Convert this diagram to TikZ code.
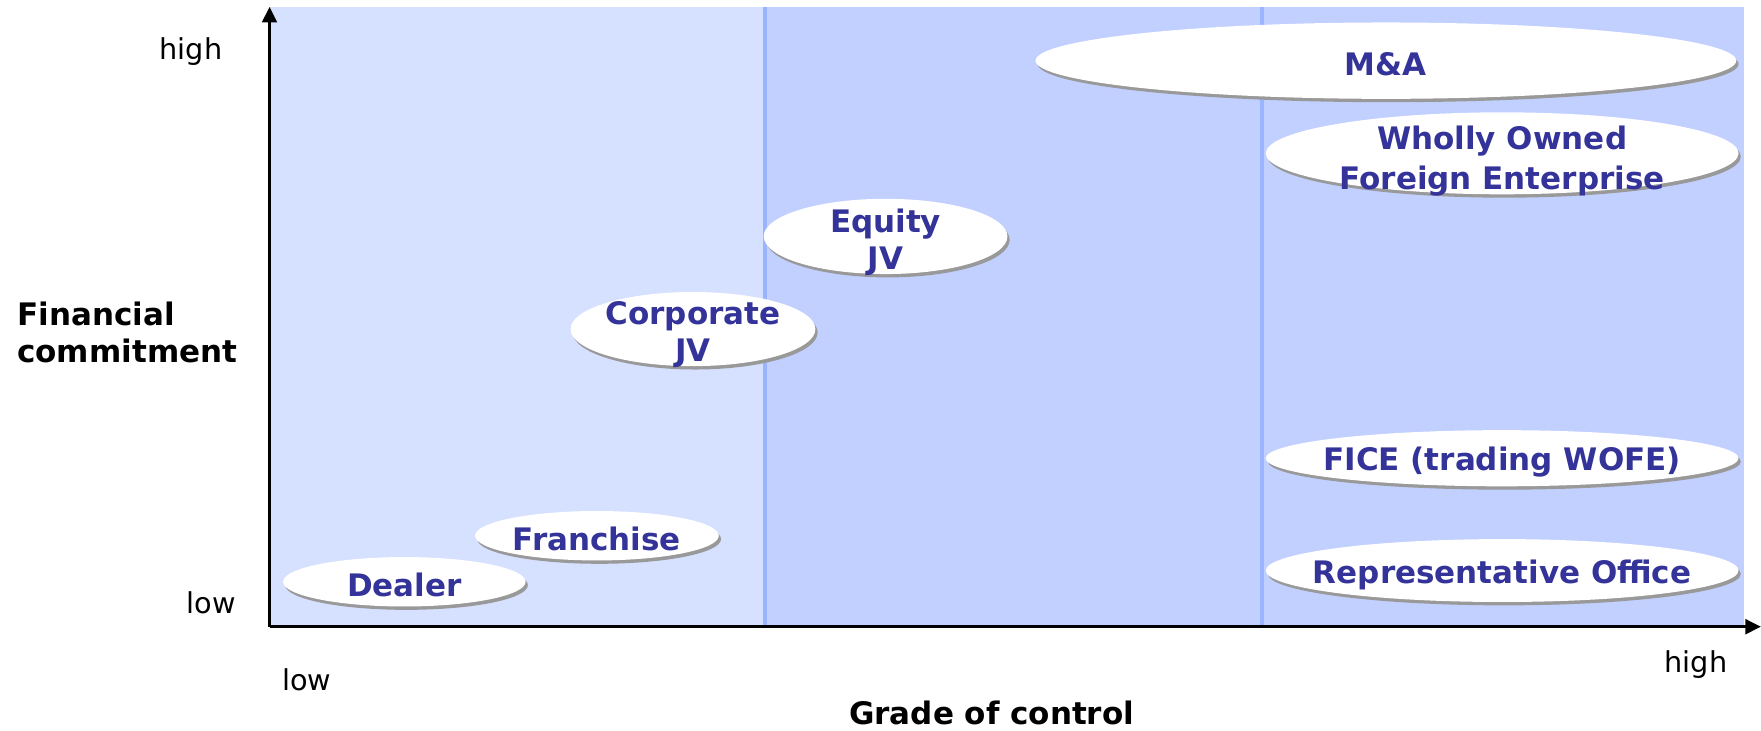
\documentclass[tikz,border=0pt]{standalone}
\usepackage{fontspec}
\setmainfont{DejaVu Sans}
\usepackage{tikz}
\usetikzlibrary{
  shapes.geometric,
  shadows,
  arrows.meta
}
\definecolor{zonelight}{HTML}{D6E0FF}
\definecolor{zonedark}{HTML}{C2D0FF}
\definecolor{divider}{HTML}{9AB4FF}
\definecolor{modetext}{HTML}{333399}
\tikzset{
  bubble/.style={ellipse,fill=white,inner sep=0pt,
    drop shadow={shadow xshift=1pt,shadow yshift=-1.5pt,fill=black!40,opacity=1}},
  bubbletext/.style={text=modetext,inner sep=0pt,align=center,yshift=-1.5pt,
    font=\fontsize{13.8}{16.5}\selectfont\bfseries},
  axislabel/.style={inner sep=0pt,align=left,
    font=\fontsize{13.8}{16.5}\selectfont\bfseries},
  ticklabel/.style={inner sep=0pt,font=\fontsize{12.8}{15}\selectfont},
  axis/.style={line width=1.5pt,-{Triangle[width=6.5pt,length=7pt]}},
}

\begin{document}
\begin{tikzpicture}[
  x=0.5pt,y=-0.5pt,
]
\useasboundingbox (0,0) rectangle (1568,650);
% zones of control
\fill[zonelight] (240,6) rectangle (681,558);
\fill[zonedark] (681,6) rectangle (1553,558);
\draw[divider,line width=1.8pt] (681,6) -- (681,558);
\draw[divider,line width=1.8pt] (1124,6) -- (1124,558);

% axes
\coordinate (origin) at (240,558);
\coordinate (ytip) at (240,6);
\coordinate (xtip) at (1568,558);
\draw[axis] (origin) -- (ytip);
\draw[axis] (origin) -- (xtip);

\node[ticklabel] (yhigh) at (170,46) {high};
\node[ticklabel] (ylow) at (188,537) {low};
\node[axislabel,anchor=west] (ytitle) at (15,296) {Financial\\commitment};
\node[ticklabel] (xlow) at (273,605) {low};
\node[ticklabel] (xhigh) at (1510,592) {high};
\node[axislabel] (xtitle) at (883,635) {Grade of control};

% entry modes
\node[bubble,minimum width=108pt,minimum height=22pt] (dealer) at (360,518) {};
\node[bubbletext] (dealer-t) at (dealer) {Dealer};
\node[bubble,minimum width=108.5pt,minimum height=22pt] (franchise) at (531.5,477) {};
\node[bubbletext] (franchise-t) at (franchise) {Franchise};
\node[bubble,minimum width=109pt,minimum height=33pt] (corpjv) at (617,293) {};
\node[bubbletext,yshift=-1pt] (corpjv-t) at (corpjv) {Corporate\\JV};
\node[bubble,minimum width=108.5pt,minimum height=33.5pt] (equityjv) at (788.5,210.5) {};
\node[bubbletext,yshift=-1.2pt] (equityjv-t) at (equityjv) {Equity\\JV};
\node[bubble,minimum width=312pt,minimum height=34pt] (manda) at (1234,54) {};
\node[bubbletext] (manda-t) at (manda) {M\&A};
\node[bubble,minimum width=210.5pt,minimum height=36.5pt] (wofe) at (1337.5,136.5) {};
\node[bubbletext,yshift=-2pt,font=\fontsize{13.8}{17.5}\selectfont\bfseries] (wofe-t) at (wofe) {Wholly Owned\\Foreign Enterprise};
\node[bubble,minimum width=210.5pt,minimum height=25pt] (fice) at (1337.5,408) {};
\node[bubbletext] (fice-t) at (fice) {FICE (trading WOFE)};
\node[bubble,minimum width=210.5pt,minimum height=28pt] (repoffice) at (1337.5,508) {};
\node[bubbletext,yshift=-0.5pt] (repoffice-t) at (repoffice) {Representative Office};
\end{tikzpicture}
\end{document}
